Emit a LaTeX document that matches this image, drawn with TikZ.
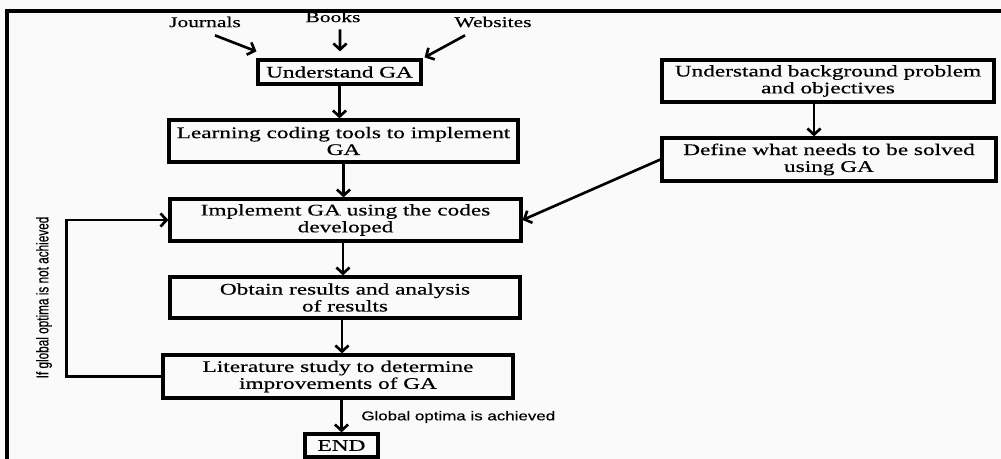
\documentclass[tikz,border=0pt]{standalone}
\usepackage{fontspec}
\setmainfont{Liberation Serif}[FakeStretch=1.44,FakeBold=0.5]
\newfontfamily\notefont{Liberation Sans}[FakeStretch=1.32,FakeBold=0.4]
\newfontfamily\sidefont{Liberation Sans}[FakeBold=0.4]
\usetikzlibrary{arrows.meta}

\tikzset{
  stepbox/.style 2 args={draw, line width=1.8pt, minimum width=#1*0.02cm,
    minimum height=#2*0.02cm, inner sep=0pt, align=center,
    font=\fontsize{9.2}{9.6}\selectfont},
  source/.style={inner sep=1pt, font=\fontsize{8.5}{10}\selectfont},
  note/.style={inner sep=0pt, font=\notefont\fontsize{7.3}{9}\selectfont},
  arr/.style={line width=1.5pt, -{Straight Barb[length=3.5pt,width=7.5pt]}},
}

\begin{document}
\begin{tikzpicture}[x=0.02cm, y=-0.02cm]
% page and frame
\useasboundingbox[fill=black!2] (0,0) rectangle (1001,459);
\draw[line width=1.8pt] (7,459) -- (7,11) -- (1001,11);

% sources
\node[source] (journals) at (205,22) {Journals};
\node[source] (books) at (333,17) {Books};
\node[source] (websites) at (493,22) {Websites};

% main column
\node[stepbox={163}{24}] (ga) at (339.5,72) {Understand GA};
\node[stepbox={349}{42}] (learn) at (343.5,141) {Learning coding tools to implement\\GA};
\node[stepbox={351}{42}] (impl) at (345.5,220) {Implement GA using the codes\\developed};
\node[stepbox={350}{41}] (obtain) at (345,297.5) {Obtain results and analysis\\of results};
\node[stepbox={350}{43}] (lit) at (338,376.5) {Literature study to determine\\improvements of GA};
\node[stepbox={73}{23}] (finish) at (341.5,445.5) {END};

% right column
\node[stepbox={332}{42}] (bg) at (828,81) {Understand background problem\\and objectives};
\node[stepbox={334}{43}] (define) at (829,159.5) {Define what needs to be solved\\using GA};

% notes
\node[note, anchor=west] (achieved) at (361,417) {Global optima is achieved};
\node[inner sep=0pt, rotate=90, font=\sidefont\fontsize{6.7}{8}\selectfont] (notach) at (44,297.5)
  {\scalebox{1}[1.45]{If global optima is not achieved}};

% arrows
\draw[arr] ([xshift=0.2cm,yshift=-0.12cm]journals.south) -- ([yshift=0.14cm]ga.north west);
\draw[arr] ([xshift=0.14cm,yshift=-0.1cm]books.south) -- ([xshift=0.01cm,yshift=0.14cm]ga.north);
\draw[arr] ([xshift=-0.56cm,yshift=-0.12cm]websites.south) -- ([xshift=0.04cm,yshift=0.02cm]ga.north east);
\draw[arr] (ga.south) -- (ga.south |- learn.north);
\draw[arr] (learn.south) -- (learn.south |- impl.north);
\draw[arr] ([xshift=-0.05cm]impl.south) -- ([xshift=-0.05cm]impl.south |- obtain.north);
\draw[arr] ([xshift=-0.06cm]obtain.south) -- ([xshift=-0.06cm]obtain.south |- lit.north);
\draw[arr] (finish.north |- lit.south) -- (finish.north);
\draw[arr] ([xshift=-0.28cm]bg.south) -- ([xshift=-0.3cm]define.north);
\draw[arr] (define.west) -- (impl.east);
\draw[arr] (lit.west) -- ++(-95,0) |- (impl.west);
\end{tikzpicture}
\end{document}
